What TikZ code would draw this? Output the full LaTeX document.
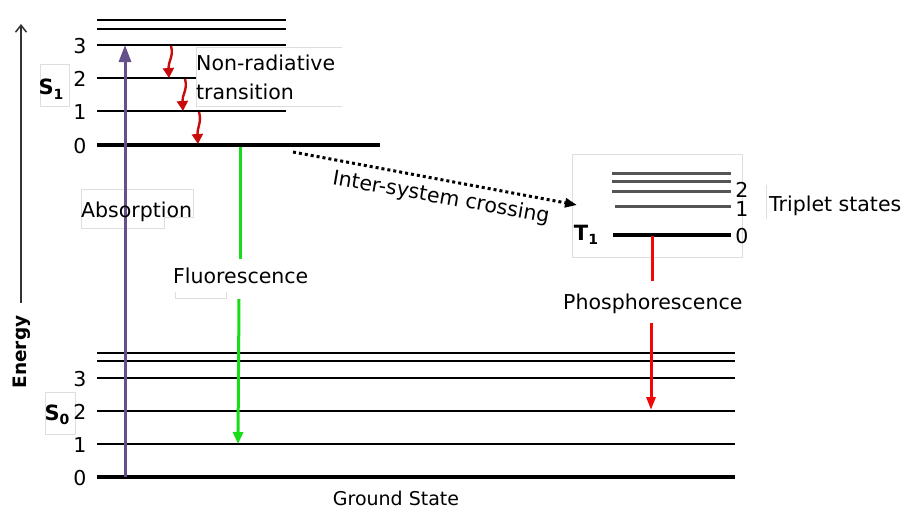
\documentclass[tikz,border=0pt]{standalone}
\usepackage{fontspec}
\setmainfont{DejaVu Sans}
\usetikzlibrary{arrows.meta}
\definecolor{absorbcol}{RGB}{101,81,138}
\definecolor{fluorcol}{RGB}{24,220,24}
\definecolor{phoscol}{RGB}{240,8,8}
\definecolor{nonradcol}{RGB}{200,12,12}
\definecolor{faintcol}{RGB}{222,222,222}
\definecolor{tripcol}{RGB}{85,85,85}
\newcommand{\subnum}[1]{\raisebox{-0.4ex}{\fontsize{14}{14}\selectfont #1}}
\begin{document}
\begin{tikzpicture}[x=1pt,y=-1pt,
  level/.style={line width=2.6pt},
  groundlevel/.style={line width=4.6pt},
  tlevel/.style={draw=tripcol,line width=3pt},
  lbl/.style={font=\fontsize{20.5}{24}\selectfont,inner sep=0pt},
  num/.style={font=\fontsize{20.5}{24}\selectfont,inner sep=0pt},
  statelbl/.style={font=\bfseries\fontsize{21}{24}\selectfont,inner sep=0pt},
  faintbox/.style={draw=faintcol,line width=0.8pt},
  nonrad/.style={draw=nonradcol,line width=2.4pt,-{Triangle[length=10pt,width=11pt]}},
]
\useasboundingbox (0,0) rectangle (903,507);

% faint label frames
\draw[faintbox] (40,64) rectangle (69,106);
\draw[faintbox] (45,392) rectangle (75,434);
\draw[faintbox] (196,47) -- (342,47) (196,47) -- (196,106) -- (342,106);
\draw[faintbox] (81,189) -- (193,189) -- (193,217) -- (164,217) -- (164,228) -- (81,228) -- cycle;
\draw[faintbox] (175,292) -- (175,298) -- (226,298) -- (226,292);
\draw[faintbox] (572,154) rectangle (742,257);
\draw[faintbox] (766,185) -- (766,219);

% energy axis
\coordinate (eaxB) at (21,303);
\coordinate (eaxT) at (21,24);
\draw[draw=black!80,line width=1.5pt,-{Straight Barb[length=7pt,width=11pt]}] (eaxB) -- (eaxT);
\node[font=\bfseries\fontsize{18.5}{22}\selectfont,inner sep=0pt,rotate=90] (energy) at (22,352) {Energy};

% singlet S1 levels
\foreach \y in {20,29,45,111} \draw[level] (97,\y) -- (286,\y);
\draw[level] (97,78) -- (196,78);
\draw[groundlevel] (97,145) -- (380,145);
\node[num] (s1n3) at (80,46) {3};
\node[num] (s1n2) at (80,79) {2};
\node[num] (s1n1) at (80,112) {1};
\node[num] (s1n0) at (80,146) {0};
\node[statelbl] (s1) at (51,89) {S\subnum{1}};

% ground state S0 levels
\foreach \y in {353,361,378,411,444} \draw[level] (97,\y) -- (735,\y);
\draw[groundlevel] (97,477) -- (735,477);
\node[num] (s0n3) at (80,379) {3};
\node[num] (s0n2) at (80,412) {2};
\node[num] (s0n1) at (80,445) {1};
\node[num] (s0n0) at (80,478) {0};
\node[statelbl] (s0) at (57,415) {S\subnum{0}};
\node[font=\fontsize{19}{22}\selectfont,inner sep=0pt,anchor=base] (ground) at (396,505) {Ground State};

% triplet levels
\foreach \y in {173,181,191} \draw[tlevel] (612,\y) -- (731,\y);
\draw[tlevel] (615,206) -- (731,206);
\draw[line width=4.4pt] (613,235) -- (731,235);
\node[num] (t1n2) at (742,190) {2};
\node[num] (t1n1) at (742,209) {1};
\node[num] (t1n0) at (742,236) {0};
\node[statelbl] (t1) at (586,235) {T\subnum{1}};
\node[lbl,anchor=base west] (triplet) at (769,211) {Triplet states};

% absorption
\coordinate (absB) at (125,477);
\coordinate (absT) at (125,45);
\draw[draw=absorbcol,line width=3pt,-{Triangle[length=17pt,width=12pt]}] (absB) -- (absT);
\node[lbl,anchor=base west] (absorption) at (81,217) {Absorption};

% non-radiative relaxation
\coordinate (nr1a) at (171,46);  \coordinate (nr1b) at (169,78);
\coordinate (nr2a) at (185,79);  \coordinate (nr2b) at (183,111);
\coordinate (nr3a) at (199,112); \coordinate (nr3b) at (198,144);
\draw[nonrad] (nr1a) .. controls (174,56) and (168,62) .. (nr1b);
\draw[nonrad] (nr2a) .. controls (188,89) and (182,95) .. (nr2b);
\draw[nonrad] (nr3a) .. controls (202,122) and (197,128) .. (nr3b);
\node[lbl,anchor=base west] (nrA) at (196,70) {Non-radiative};
\node[lbl,anchor=base west] (nrB) at (196,99) {transition};

% fluorescence
\coordinate (flT) at (240,147);
\coordinate (flGapA) at (240,259);
\coordinate (flGapB) at (239,299);
\coordinate (flB) at (238,444);
\draw[draw=fluorcol,line width=3pt] (flT) -- (flGapA);
\draw[draw=fluorcol,line width=3pt,-{Triangle[length=12pt,width=10pt]}] (flGapB) -- (flB);
\node[lbl,anchor=base west] (fluor) at (173,283) {Fluorescence};

% phosphorescence
\coordinate (phT) at (652,236);
\coordinate (phGapA) at (652,281);
\coordinate (phGapB) at (651,323);
\coordinate (phB) at (651,410);
\draw[draw=phoscol,line width=3pt] (phT) -- (phGapA);
\draw[draw=phoscol,line width=3pt,-{Triangle[length=13pt,width=9pt]}] (phGapB) -- (phB);
\node[lbl,anchor=base west] (phos) at (563,309) {Phosphorescence};

% inter-system crossing
\coordinate (iscA) at (293,152);
\coordinate (iscB) at (577,205);
\draw[line width=3pt,dash pattern=on 3pt off 3pt,-{Triangle[length=12pt,width=9pt]}] (iscA) -- (iscB);
\node[lbl,rotate=-10] (isc) at (441,198) {Inter-system crossing};
\end{tikzpicture}
\end{document}
